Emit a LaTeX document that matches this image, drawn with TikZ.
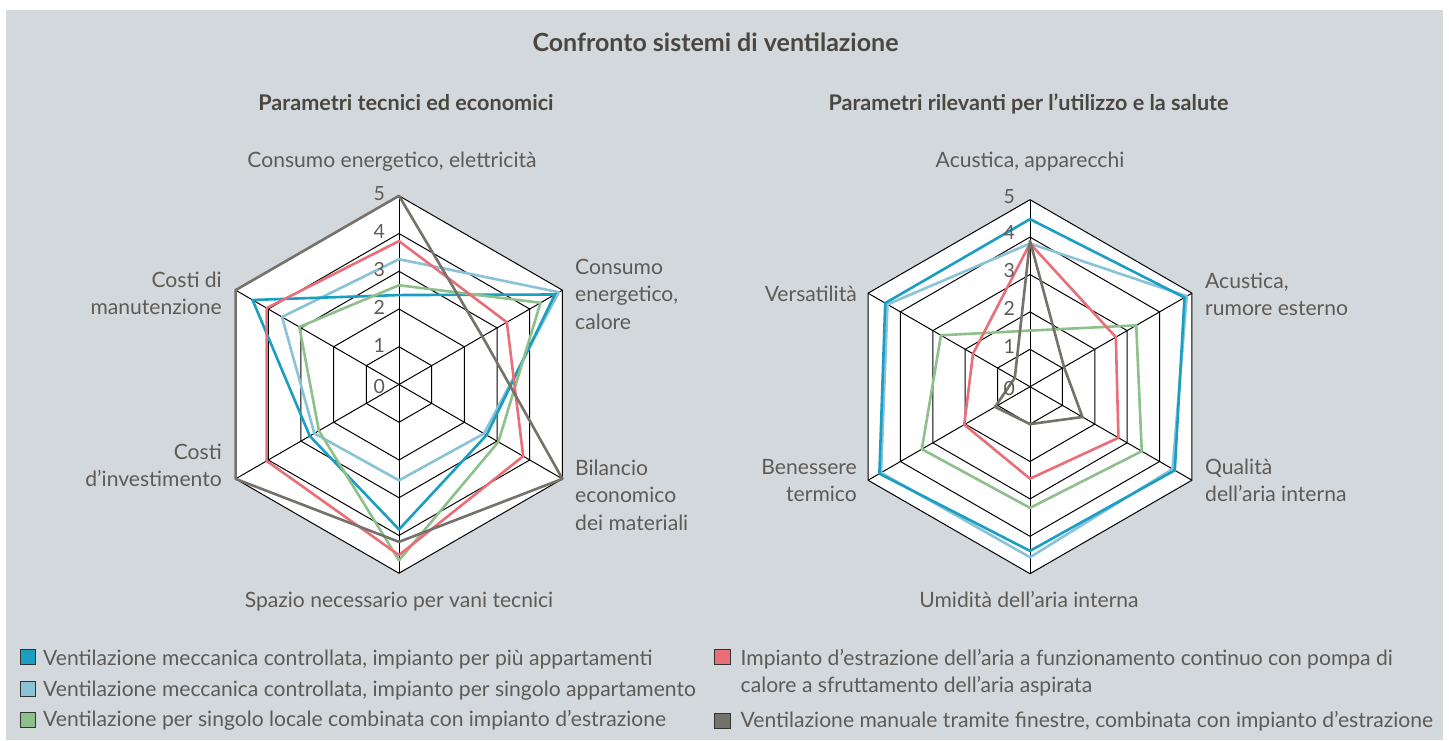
\documentclass[tikz,border=0pt]{standalone}
\usepackage{fontspec}
\setmainfont{Lato}
\usetikzlibrary{calc}
\definecolor{bg}{HTML}{D3D8DC}
\definecolor{txt}{HTML}{5E5A55}
\definecolor{ttl}{HTML}{4A4640}
\definecolor{cblue}{HTML}{1A9EC2}
\definecolor{clight}{HTML}{88C3D8}
\definecolor{cgreen}{HTML}{8DC08A}
\definecolor{cred}{HTML}{EA6E78}
\definecolor{cgrey}{HTML}{75716B}
\newcommand\RR{188}
\newcommand\hexring[1]{(-90:#1) -- (-30:#1) -- (30:#1) -- (90:#1) -- (150:#1) -- (210:#1) -- cycle}
\newcommand\radargrid{%
  \fill[white] \hexring{\RR};
  \foreach \k in {1,...,5}{\pgfmathsetmacro\rr{\k*\RR/5}\draw[gridline] \hexring{\rr};}
  \foreach \a in {-90,-30,30,90,150,210}{\draw[gridline] (0,0) -- (\a:\RR);}}
\newcommand\series[7]{\draw[serie,#1] (-90:{#2*\RR/5}) -- (-30:{#3*\RR/5}) -- (30:{#4*\RR/5}) -- (90:{#5*\RR/5}) -- (150:{#6*\RR/5}) -- (210:{#7*\RR/5}) -- cycle;}
\tikzset{
  gridline/.style={black,line width=1pt},
  serie/.style={line width=2.6pt,line join=round},
  lab/.style={inner sep=0pt,text=txt,font=\fontsize{21.1}{27.5}\selectfont},
  num/.style={inner sep=0pt,text=txt,font=\fontsize{19.5}{22}\selectfont},
  ttlstyle/.style={inner sep=0pt,text=ttl,font=\bfseries\fontsize{25}{28}\selectfont},
  subttl/.style={inner sep=0pt,text=ttl,font=\bfseries\fontsize{21.6}{24}\selectfont},
  legsq/.style={draw=black!80,line width=0.9pt,minimum width=15.5pt,minimum height=15pt,inner sep=0pt},
}
\begin{document}
\begin{tikzpicture}[x=1pt,y=-1pt]
\useasboundingbox (0,0) rectangle (1449,740);
\fill[bg] (6,10) rectangle (1443,740);
% titles
\node[ttlstyle,anchor=base] (title) at (715.5,51.5) {Confronto sistemi di ventilazione};
\node[subttl,anchor=base] (sub1) at (406,110.5) {Parametri tecnici ed economici};
\node[subttl,anchor=base] (sub2) at (1028.5,110.5) {Parametri rilevanti per l’utilizzo e la salute};
% ---------- left chart ----------
\renewcommand\RR{188.7}
\begin{scope}[shift={(399,384.5)}]
\coordinate (cL) at (0,0);
\radargrid
\series{clight}{3.32}{4.89}{2.6}{2.54}{2.59}{3.58}
\series{cblue}{2.37}{4.77}{2.68}{3.84}{2.73}{4.48}
\series{cgreen}{2.63}{4.33}{3.04}{4.66}{2.45}{3.05}
\series{cred}{3.8}{3.3}{3.8}{4.52}{4.05}{4.05}
\series{cgrey}{5}{2.55}{5}{4.17}{5}{5}
\end{scope}
\node[num] (nL5) at (379.3,193.3) {5};
\node[num] (nL4) at (379.3,231.5) {4};
\node[num] (nL3) at (379.3,269.3) {3};
\node[num] (nL2) at (379.3,307.3) {2};
\node[num] (nL1) at (379.3,345) {1};
\node[num] (nL0) at (379.3,386.7) {0};
% left labels
\node[lab,anchor=base] (aL1) at (392,167.5) {Consumo energetico, elettricità};
\node[lab,anchor=base west] (aL2a) at (575,274) {Consumo};
\node[lab,anchor=base west] (aL2b) at (575,301.5) {energetico,};
\node[lab,anchor=base west] (aL2c) at (575,329) {calore};
\node[lab,anchor=base west] (aL3a) at (575,475) {Bilancio};
\node[lab,anchor=base west] (aL3b) at (575,502.5) {economico};
\node[lab,anchor=base west] (aL3c) at (575,530) {dei materiali};
\node[lab,anchor=base] (aL4) at (399,607) {Spazio necessario per vani tecnici};
\node[lab,anchor=base east] (aL5a) at (222,459) {Costi};
\node[lab,anchor=base east] (aL5b) at (222,486.5) {d’investimento};
\node[lab,anchor=base east] (aL6a) at (222,287) {Costi di};
\node[lab,anchor=base east] (aL6b) at (222,314.5) {manutenzione};
% ---------- right chart ----------
\renewcommand\RR{187}
\begin{scope}[shift={(1030,386.7)}]
\coordinate (cR) at (0,0);
\radargrid
\series{clight}{3.83}{4.84}{4.4}{4.56}{4.6}{4.4}
\series{cblue}{4.48}{4.77}{4.47}{4.39}{4.65}{4.47}
\series{cgreen}{1.5}{3.28}{3.45}{3.24}{3.34}{2.75}
\series{cred}{3.83}{2.65}{2.73}{2.46}{2.03}{1.76}
\series{cgrey}{3.9}{1.05}{1.62}{1.0}{1.08}{0.47}
\end{scope}
\node[num] (nR5) at (1009.3,197) {5};
\node[num] (nR4) at (1009.3,233) {4};
\node[num] (nR3) at (1009.3,271) {3};
\node[num] (nR2) at (1009.3,308) {2};
\node[num] (nR1) at (1009.3,346.7) {1};
\node[num] (nR0) at (1009.3,388.3) {0};
\node[lab,anchor=base] (aR1) at (1030,167.5) {Acustica, apparecchi};
\node[lab,anchor=base west] (aR2a) at (1205,288) {Acustica,};
\node[lab,anchor=base west] (aR2b) at (1205,315.5) {rumore esterno};
\node[lab,anchor=base west] (aR3a) at (1205,474) {Qualità};
\node[lab,anchor=base west] (aR3b) at (1205,501.5) {dell’aria interna};
\node[lab,anchor=base] (aR4) at (1029,607) {Umidità dell’aria interna};
\node[lab,anchor=base east] (aR5a) at (857,474) {Benessere};
\node[lab,anchor=base east] (aR5b) at (857,501.5) {termico};
\node[lab,anchor=base east] (aR6) at (857,301) {Versatilità};
% ---------- legend ----------
\node[legsq,fill=cblue] (q1) at (28,656.8) {};
\node[legsq,fill=clight] (q2) at (28,689.2) {};
\node[legsq,fill=cgreen] (q3) at (28,720.2) {};
\node[legsq,fill=cred] (q4) at (722.5,656.8) {};
\node[legsq,fill=cgrey] (q5) at (722.5,721.3) {};
\node[lab,anchor=base west] (t1) at (43,665) {Ventilazione meccanica controllata, impianto per più appartamenti};
\node[lab,anchor=base west] (t2) at (43,696) {Ventilazione meccanica controllata, impianto per singolo appartamento};
\node[lab,anchor=base west] (t3) at (43,726.7) {Ventilazione per singolo locale combinata con impianto d’estrazione};
\node[lab,anchor=base west] (t4a) at (740.5,665) {Impianto d’estrazione dell’aria a funzionamento continuo con pompa di};
\node[lab,anchor=base west] (t4b) at (740.5,692.3) {calore a sfruttamento dell’aria aspirata};
\node[lab,anchor=base west] (t5) at (740.5,727.3) {Ventilazione manuale tramite finestre, combinata con impianto d’estrazione};
\end{tikzpicture}
\end{document}
